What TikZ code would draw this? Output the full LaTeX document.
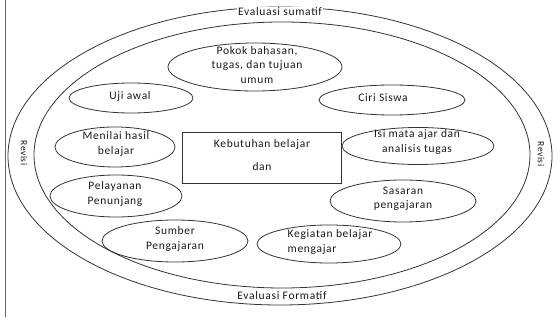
\documentclass[tikz,border=0pt]{standalone}
\usepackage{fontspec}
\setmainfont{Carlito}[LetterSpace=6]
\usetikzlibrary{shapes.geometric}

\begin{document}
\begin{tikzpicture}[x=1pt, y=-1pt, line width=0.8pt, draw=black!80, text=black!90,
    font=\fontsize{11.5}{14.5}\selectfont,
    topic/.style={draw=black!80, ellipse, inner sep=0pt},
    caption/.style={align=center, inner sep=1pt},
    rim/.style={fill=white, inner sep=1pt},
    side/.style={rotate=-90, inner sep=0pt, font=\fontsize{9.5}{11}\selectfont}]
  \useasboundingbox (0,0) rectangle (560,320);
  \draw[black!60] (5,0) -- (5,317);
  % rings
  \draw (280,156) ellipse [x radius=272, y radius=149];
  \draw (282,155) ellipse [x radius=248, y radius=133];
  \node[rim] (sumatif) at (280,12) {Evaluasi sumatif};
  \node[rim] (formatif) at (282,296) {Evaluasi Formatif};
  \node[side] (revisiL) at (24,153) {Revisi};
  \node[side] (revisiR) at (541,154) {Revisi};
  % centre
  \node[draw=black!80, minimum width=159, minimum height=51] (kebutuhan) at (261.5,157.5) {};
  \node[caption] (kebutuhantext) at (262,155) {Kebutuhan belajar\\[9pt]dan};
  % topics
  \node[topic, minimum width=174, minimum height=48] (pokok) at (255,67) {};
  \node[caption] (pokoktext) at (257,65) {Pokok bahasan,\\tugas, dan tujuan\\umum};
  \node[topic, minimum width=124, minimum height=30] (uji) at (131,98) {};
  \node[caption] (ujitext) at (130,96) {Uji awal};
  \node[topic, minimum width=146, minimum height=30] (ciri) at (392,100) {};
  \node[caption] (ciritext) at (383,98) {Ciri Siswa};
  \node[topic, minimum width=120, minimum height=40] (menilai) at (115,147) {};
  \node[caption] (menilaitext) at (116,144) {Menilai hasil\\belajar};
  \node[topic, minimum width=152, minimum height=37] (isi) at (418,146) {};
  \node[caption] (isitext) at (417,142) {Isi mata ajar dan\\analisis tugas};
  \node[topic, minimum width=132, minimum height=42] (pelayanan) at (116,196) {};
  \node[caption] (pelayanantext) at (115,194) {Pelayanan\\Penunjang};
  \node[topic, minimum width=146, minimum height=42] (sasaran) at (403,201) {};
  \node[caption] (sasarantext) at (403,199) {Sasaran\\pengajaran};
  \node[topic, minimum width=146, minimum height=42] (sumber) at (175,241) {};
  \node[caption] (sumbertext) at (175,239) {Sumber\\Pengajaran};
  \node[topic, minimum width=144, minimum height=38] (kegiatan) at (329,244) {};
  \node[caption, align=left] (kegiatantext) at (330,242) {Kegiatan belajar\\mengajar};
\end{tikzpicture}
\end{document}
